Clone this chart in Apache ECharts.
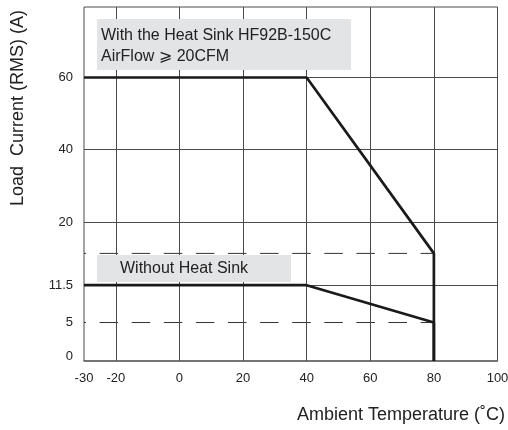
<!DOCTYPE html>
<html>
<head>
<meta charset="utf-8">
<script src="https://cdn.jsdelivr.net/npm/echarts@6/dist/echarts.min.js"></script>
<style>
html,body{margin:0;padding:0;background:#fff;}
#chart{width:508px;height:430px;}
</style>
</head>
<body>
<div id="chart"></div>
<script>
// ---- data ----
const xTickLabels = [-30, -20, 0, 20, 40, 60, 80, 100];
const xGridValues = [-20, 0, 20, 40, 60, 80];
const yTickLabels = [0, 5, 11.5, 20, 40, 60];
const yGridValues = [11.5, 20, 40, 60];
const heatSinkTemp = [-30, 40, 80, 80];
const heatSinkCurrent = [60, 60, 15.8, 0];
const noSinkTemp = [-30, 40, 80, 80];
const noSinkCurrent = [11.5, 11.5, 5, 0];
const refCurrents = [15.8, 5];
const refTempRange = [-30, 80];

// ---- non-uniform (schematic) current axis: value -> axis slot ----
const yScaleValues = [0, 5, 11.5, 20, 40, 60, 80];
const yScaleSlots  = [0, 10.87, 21.42, 39.16, 59.82, 80.08, 100];
function ys(v) {
  for (let i = 0; i < yScaleValues.length - 1; i++) {
    const a = yScaleValues[i], b = yScaleValues[i + 1];
    if (v >= a && v <= b) {
      return yScaleSlots[i] + (v - a) / (b - a) * (yScaleSlots[i + 1] - yScaleSlots[i]);
    }
  }
  return v > 0 ? yScaleSlots[yScaleSlots.length - 1] : 0;
}
function pts(xs, yv) { return xs.map((x, i) => [x, ys(yv[i])]); }

const FONT = 'Liberation Sans, Arial, DejaVu Sans, sans-serif';
const chart = echarts.init(document.getElementById('chart'), null, {renderer: 'canvas'});

const gridLineData = xGridValues.map(v => ({xAxis: v})).concat(yGridValues.map(v => ({yAxis: ys(v)})));

const option = {
  animation: false,
  backgroundColor: '#fff',
  grid: {left: 84, right: 10.5, top: 7, bottom: 69, containLabel: false, outerBoundsMode: 'none',
         show: true, borderColor: '#4a4a4a', borderWidth: 1, backgroundColor: 'transparent'},
  xAxis: {
    type: 'value', min: -30, max: 100,
    axisLine: {show: true, lineStyle: {color: '#666', width: 1.5}},
    axisTick: {show: false},
    splitLine: {show: false},
    axisLabel: {customValues: xTickLabels, margin: 11, color: '#222', fontSize: 13, fontFamily: FONT}
  },
  yAxis: {
    type: 'value', min: 0, max: 100,
    axisLine: {show: false},
    axisTick: {show: false},
    splitLine: {show: false},
    axisLabel: {
      customValues: yTickLabels.map(ys), margin: 11, color: '#222', fontSize: 13, fontFamily: FONT,
      formatter: function (val) {
        const t = yTickLabels.find(l => Math.abs(ys(l) - val) < 1e-6);
        if (t === undefined) return '';
        return t === 0 ? '{z|0}' : String(t);
      },
      rich: {z: {padding: [0, 0, 10, 0], fontSize: 13, color: '#222', fontFamily: FONT}}
    }
  },
  series: [
    {
      type: 'line', data: [], z: 1, silent: true,
      markLine: {
        silent: true, symbol: ['none', 'none'], label: {show: false},
        lineStyle: {color: '#4a4a4a', width: 1, type: 'solid'},
        emphasis: {disabled: true},
        data: gridLineData
      }
    },
    ...refCurrents.map(c => ({
      type: 'line', z: 3, symbol: 'none', silent: true,
      data: pts(refTempRange, [c, c]),
      lineStyle: {color: '#333', width: 1, type: [18.5, 13.6], dashOffset: 16.5}
    })),
    {
      name: 'With Heat Sink', type: 'line', z: 5, symbol: 'none', silent: true,
      data: pts(heatSinkTemp, heatSinkCurrent),
      lineStyle: {color: '#1a1a1a', width: 2.7}
    },
    {
      name: 'Without Heat Sink', type: 'line', z: 5, symbol: 'none', silent: true,
      data: pts(noSinkTemp, noSinkCurrent),
      lineStyle: {color: '#1a1a1a', width: 2.7}
    }
  ],
  graphic: [
    {type: 'rect', z: 10, shape: {x: 97, y: 19, width: 254, height: 51}, style: {fill: '#e3e4e6'}},
    {type: 'text', z: 11, x: 101, y: 24.5, style: {
      text: 'With the Heat Sink HF92B-150C\nAirFlow \u2A7E 20CFM', font: '16px ' + FONT, lineHeight: 21.5,
      fill: '#222', textVerticalAlign: 'top', verticalAlign: 'top'}},
    {type: 'rect', z: 10, shape: {x: 97, y: 255, width: 194, height: 27}, style: {fill: '#e3e4e6'}},
    {type: 'text', z: 11, x: 120, y: 268.5, style: {
      text: 'Without Heat Sink', font: '16px ' + FONT, fill: '#222', textVerticalAlign: 'middle', verticalAlign: 'middle'}},
    {type: 'text', z: 11, x: 18, y: 108, rotation: Math.PI / 2, style: {
      text: 'Load  Current (RMS) (A)', font: '18px ' + FONT, fill: '#222',
      textAlign: 'center', align: 'center', textVerticalAlign: 'middle', verticalAlign: 'middle'}},
    {type: 'text', z: 11, x: 505, y: 415, style: {
      text: 'Ambient Temperature (\u02DAC)', font: '18px ' + FONT, fill: '#222',
      textAlign: 'right', align: 'right', textVerticalAlign: 'middle', verticalAlign: 'middle'}}
  ]
};
chart.setOption(option);
</script>
</body>
</html>
